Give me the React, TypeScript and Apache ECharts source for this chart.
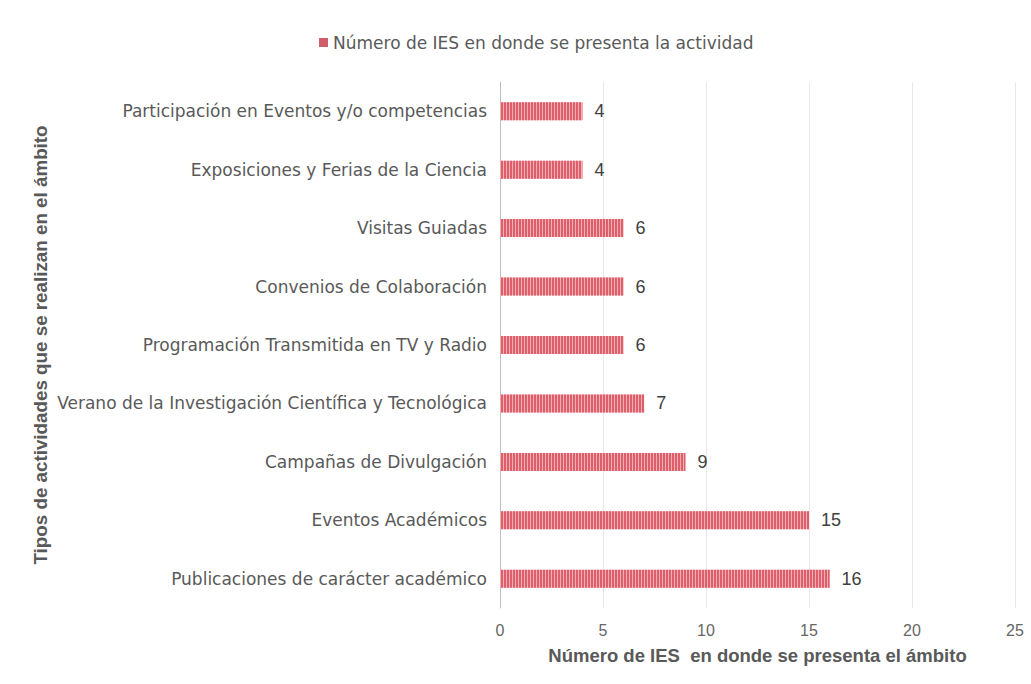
import React, { useEffect, useRef } from "react";
import * as echarts from "echarts";

const categories = [
  "Publicaciones de carácter académico",
  "Eventos Académicos",
  "Campañas de Divulgación",
  "Verano de la Investigación Científica y Tecnológica",
  "Programación Transmitida en TV y Radio",
  "Convenios de Colaboración",
  "Visitas Guiadas",
  "Exposiciones y Ferias de la Ciencia",
  "Participación en Eventos y/o competencias",
];
const values = [16, 15, 9, 7, 6, 6, 6, 4, 4];
const seriesName = "Número de IES en donde se presenta la actividad";
const xAxisTitle = "Número de IES  en donde se presenta el ámbito";
const yAxisTitle = "Tipos de actividades que se realizan en el ámbito";

const FONT = "'Liberation Sans', Arial, sans-serif";
const WIDE = "'DejaVu Sans', Verdana, sans-serif";

export default function App() {
  const ref = useRef<HTMLDivElement>(null);
  useEffect(() => {
    if (!ref.current) return;
    const chart = echarts.init(ref.current, undefined, { renderer: "svg" });
    chart.setOption({
      animation: false,
      backgroundColor: "#ffffff",
      textStyle: { fontFamily: FONT },
      legend: {
        top: 29,
        left: 314,
        itemWidth: 9,
        itemHeight: 9,
        itemGap: 4,
        textStyle: { color: "#595959", fontSize: 17, fontFamily: WIDE },
        data: [
          {
            name: seriesName,
            icon: "rect",
            itemStyle: { color: "#cf5f6b", decal: { symbol: "none" } },
          },
        ],
      },
      grid: { left: 500, right: 16, top: 82, bottom: 76, containLabel: false },
      xAxis: {
        type: "value",
        min: 0,
        max: 25,
        interval: 5,
        name: xAxisTitle,
        nameLocation: "middle",
        nameGap: 38,
        nameTextStyle: { color: "#595959", fontSize: 18.5, fontWeight: "bold", fontFamily: FONT },
        axisLine: { show: false },
        axisTick: { show: false },
        axisLabel: { color: "#666666", fontSize: 16, margin: 14, fontFamily: FONT },
        splitLine: { show: true, lineStyle: { color: "#e8e8e8", width: 1 } },
      },
      yAxis: {
        type: "category",
        data: categories,
        name: yAxisTitle,
        nameLocation: "middle",
        nameGap: 450,
        nameRotate: 90,
        nameTextStyle: { color: "#595959", fontSize: 18.8, fontWeight: "bold", fontFamily: FONT },
        axisLine: { show: true, lineStyle: { color: "#bfbfbf", width: 1 } },
        axisTick: { show: false },
        axisLabel: { color: "#595959", fontSize: 17, margin: 13, fontFamily: WIDE },
      },
      series: [
        {
          name: seriesName,
          type: "bar",
          data: values,
          barWidth: 18,
          itemStyle: {
            color: "#f2b0b5",
            decal: {
              symbol: "rect",
              symbolSize: 1,
              color: "#dc5f6b",
              dashArrayX: [2, 1],
              dashArrayY: [20, 0],
              rotation: 0,
            },
          },
          label: {
            show: true,
            position: "right",
            distance: 12,
            color: "#404040",
            fontSize: 18,
            fontFamily: FONT,
          },
        },
      ],
    });
    return () => chart.dispose();
  }, []);
  return (
    <div
      ref={ref}
      style={{ position: "fixed", left: 0, top: 0, width: 1031, height: 684 }}
    />
  );
}
